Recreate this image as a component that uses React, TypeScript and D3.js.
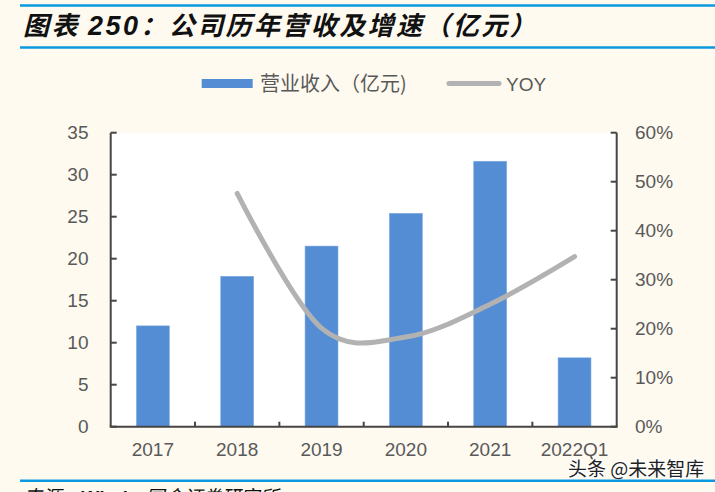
import React from 'react';
import * as d3 from 'd3';

const categories = ['2017', '2018', '2019', '2020', '2021', '2022Q1'];
const revenue = [12.0, 17.9, 21.5, 25.4, 31.6, 8.2];
const yoy: (number | null)[] = [null, 47.6, 20.1, 18.3, 25.0, 34.7];
const leftTicks = [0, 5, 10, 15, 20, 25, 30, 35];
const rightTicks = [0, 10, 20, 30, 40, 50, 60];

const W = 715;
const H = 492;
const margin = { top: 132.7, right: 98.3, bottom: 65.3, left: 110.7 };
const plotRight = W - margin.right;
const plotBottom = H - margin.bottom;

const BLUE = '#548dd4';
const GREY = '#b2b2b2';
const TEXT = '#595959';
const AXIS = '#454545';
const RULE = '#0a98df';
const LATIN = '"Liberation Sans", Arial, sans-serif';
const CJK = '"Noto Sans CJK SC", "Liberation Sans", sans-serif';

const App: React.FC = () => {
  const x = d3.scaleBand<string>()
    .domain(categories)
    .range([margin.left, plotRight])
    .paddingInner(0.61)
    .paddingOuter(0.305);

  const yLeft = d3.scaleLinear().domain([0, 35]).range([plotBottom, margin.top]);
  const yRight = d3.scaleLinear().domain([0, 60]).range([plotBottom, margin.top]);

  const center = (c: string) => (x(c) ?? 0) + x.bandwidth() / 2;

  const linePts = categories
    .map((c, i) => ({ c, v: yoy[i] }))
    .filter(d => d.v !== null) as { c: string; v: number }[];

  const line = d3.line<{ c: string; v: number }>()
    .x(d => center(d.c))
    .y(d => yRight(d.v))
    .curve(d3.curveCardinal.tension(0));

  // category boundary ticks on the x axis
  const boundaries = categories.slice(0, -1).map(c => center(c) + x.step() / 2);

  return (
    <svg width={W} height={H} style={{ position: 'absolute', left: 0, top: 0, background: '#fefaf0' }}>
      <rect x={0} y={0} width={W} height={H} fill="#fefaf0" />

      {/* title block */}
      <line x1={20} x2={W} y1={5.5} y2={5.5} stroke={RULE} strokeWidth={2.5} />
      <line x1={20} x2={W} y1={47.5} y2={47.5} stroke={RULE} strokeWidth={2.5} />
      <text x={23} y={35} fontSize={26} fontWeight="bold" fontStyle="italic" fill="#111" fontFamily={CJK} letterSpacing={2.4}>
        图表 <tspan fontFamily={LATIN} fontSize={27}>250</tspan>：公司历年营收及增速（亿元）
      </text>

      {/* legend */}
      <rect x={201.7} y={79} width={51} height={9} fill={BLUE} />
      <text x={260} y={91} fontSize={20} fill={TEXT} fontFamily={CJK}>营业收入（亿元)</text>
      <line x1={449} x2={499} y1={83.5} y2={83.5} stroke={GREY} strokeWidth={5} strokeLinecap="round" />
      <text x={506} y={90.5} fontSize={19} fill={TEXT} fontFamily={LATIN}>YOY</text>

      {/* plot area */}
      <rect x={margin.left} y={margin.top} width={plotRight - margin.left} height={plotBottom - margin.top} fill="#ffffff" />

      {categories.map((c, i) => (
        <rect
          key={c}
          x={x(c)}
          y={yLeft(revenue[i])}
          width={x.bandwidth()}
          height={plotBottom - yLeft(revenue[i])}
          fill={BLUE}
          stroke="#7aa8e0"
          strokeWidth={0.6}
        />
      ))}

      <path d={line(linePts) ?? ''} fill="none" stroke={GREY} strokeWidth={5} strokeLinecap="round" />

      {/* axes */}
      <g stroke={AXIS} strokeWidth={2} fill="none">
        <line x1={margin.left} x2={margin.left} y1={margin.top} y2={plotBottom} />
        <line x1={plotRight} x2={plotRight} y1={margin.top} y2={plotBottom} />
        <line x1={margin.left - 1} x2={plotRight + 1} y1={plotBottom} y2={plotBottom} />
        {leftTicks.map(t => (
          <line key={'l' + t} x1={margin.left} x2={margin.left + 6} y1={yLeft(t)} y2={yLeft(t)} />
        ))}
        {rightTicks.map(t => (
          <line key={'r' + t} x1={plotRight - 6} x2={plotRight} y1={yRight(t)} y2={yRight(t)} />
        ))}
        {boundaries.map((b, i) => (
          <line key={'b' + i} x1={b} x2={b} y1={plotBottom} y2={plotBottom - 5} />
        ))}
      </g>

      <g fontFamily={LATIN} fontSize={19} fill={TEXT}>
        {leftTicks.map(t => (
          <text key={'lt' + t} x={88.5} y={yLeft(t)} dy="0.35em" textAnchor="end">{t}</text>
        ))}
        {rightTicks.map(t => (
          <text key={'rt' + t} x={635} y={yRight(t)} dy="0.35em">{t}%</text>
        ))}
        {categories.map(c => (
          <text key={'ct' + c} x={center(c)} y={456} textAnchor="middle">{c}</text>
        ))}
      </g>

      {/* watermark */}
      <text x={568} y={476} fontSize={19} fontFamily={CJK} fill="#222" stroke="#ffffff" strokeWidth={2.5} paintOrder="stroke">
        头条 @未来智库
      </text>

      {/* source line, cropped at the bottom edge as in the original */}
      <line x1={20} x2={W} y1={480.7} y2={480.7} stroke={RULE} strokeWidth={2.5} />
      <text x={23} y={504} fontSize={19} fontStyle="italic" fill="#111" fontFamily={CJK}>
        来源：<tspan fontFamily={LATIN} fontWeight="bold">Wind</tspan>，国金证券研究所
      </text>
    </svg>
  );
};

export default App;
